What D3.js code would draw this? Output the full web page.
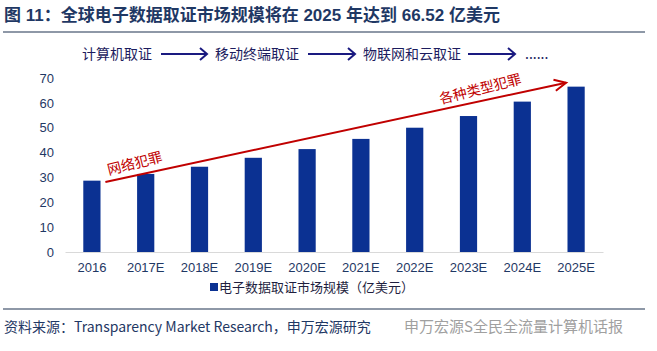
<!DOCTYPE html>
<html>
<head>
<meta charset="utf-8">
<script src="https://cdn.jsdelivr.net/npm/d3@7/dist/d3.min.js"></script>
<style>
  body { margin: 0; background: #fff; }
  svg { display: block; font-family: "Liberation Sans", Arial, "Noto Sans CJK SC", sans-serif; }
</style>
</head>
<body>
<div id="chart"></div>
<script>
// data
const years = ["2016", "2017E", "2018E", "2019E", "2020E", "2021E", "2022E", "2023E", "2024E", "2025E"];
const marketSize = [28.7, 31.4, 34.3, 37.9, 41.4, 45.5, 50.0, 54.7, 60.5, 66.52];
const yTicks = [0, 10, 20, 30, 40, 50, 60, 70];
const stages = ["计算机取证", "移动终端取证", "物联网和云取证", "......"];

const width = 657, height = 351;
const navy = "#1f3864";
const barColor = "#0b3192";
const red = "#c00000";

const svg = d3.select("#chart").append("svg")
  .attr("width", width)
  .attr("height", height);

// titre
svg.append("text")
  .attr("x", 4).attr("y", 21)
  .attr("font-size", 17).attr("font-weight", "bold")
  .attr("fill", navy)
  .text("图 11：全球电子数据取证市场规模将在 2025 年达到 66.52 亿美元");
svg.append("line")
  .attr("x1", 3).attr("x2", 645).attr("y1", 32).attr("y2", 32)
  .attr("stroke", "#1f3251").attr("stroke-width", 1.2);

// escalas
const x = d3.scaleBand().domain(years).range([65, 603]).paddingInner(0.68).paddingOuter(0.34);
const y = d3.scaleLinear().domain([0, 70]).range([252, 78]);

// eixo y (sem linha)
const yAxis = svg.append("g")
  .attr("transform", "translate(54,0)")
  .call(d3.axisLeft(y).tickValues(yTicks).tickSize(0).tickPadding(0));
yAxis.select(".domain").remove();
yAxis.selectAll("text").attr("font-size", 13).attr("fill", navy)
  .attr("font-family", "Liberation Sans, Arial, sans-serif");

// barras
svg.append("g").selectAll("rect")
  .data(years)
  .join("rect")
  .attr("x", d => x(d))
  .attr("y", (d, i) => y(marketSize[i]))
  .attr("width", x.bandwidth())
  .attr("height", (d, i) => y(0) - y(marketSize[i]))
  .attr("fill", barColor);

// eixo x
const xAxis = svg.append("g")
  .attr("transform", `translate(0,${y(0)})`)
  .call(d3.axisBottom(x).tickSize(0).tickPadding(11));
xAxis.select(".domain").attr("stroke", "#d9d9d9").attr("stroke-width", 1.2);
xAxis.selectAll("text").attr("font-size", 13).attr("fill", navy)
  .attr("font-family", "Liberation Sans, Arial, sans-serif");

// seta vermelha de tendência
const x0 = x("2016") + x.bandwidth() / 2 + 13.5, y0 = y(28.2);
const x1 = x("2025E") + x.bandwidth() / 2 - 10, y1 = y(68.1);
const ang = Math.atan2(y1 - y0, x1 - x0);
svg.append("line")
  .attr("x1", x0).attr("y1", y0).attr("x2", x1).attr("y2", y1)
  .attr("stroke", red).attr("stroke-width", 2);
const hl = 13, ha = 0.45;
svg.append("path")
  .attr("d", d3.line()([
    [x1 - hl * Math.cos(ang - ha), y1 - hl * Math.sin(ang - ha)],
    [x1, y1],
    [x1 - hl * Math.cos(ang + ha), y1 - hl * Math.sin(ang + ha)]
  ]))
  .attr("fill", "none").attr("stroke", red).attr("stroke-width", 2);

const deg = ang * 180 / Math.PI;
function along(t, label, dy) {
  const px = x0 + (x1 - x0) * t, py = y0 + (y1 - y0) * t;
  svg.append("text")
    .attr("transform", `translate(${px},${py}) rotate(${deg - 2})`)
    .attr("y", dy)
    .attr("text-anchor", "middle")
    .attr("font-size", 14)
    .attr("font-family", "Noto Sans CJK SC, sans-serif")
    .attr("fill", red)
    .text(label);
}
along(0.07, "网络犯罪", -7);
along(0.82, "各种类型犯罪", -7);

// etapas em cima
const stageX = [82, 215, 363, 525];
const arrowX = [[161, 207], [308, 355], [468, 515]];
svg.append("g").selectAll("text")
  .data(stages)
  .join("text")
  .attr("x", (d, i) => stageX[i])
  .attr("y", 59)
  .attr("font-size", 14)
  .attr("font-family", "Noto Sans CJK SC, sans-serif")
  .attr("fill", "#1c1c5e")
  .text(d => d);
arrowX.forEach(([a, b]) => {
  svg.append("line").attr("x1", a).attr("x2", b).attr("y1", 54).attr("y2", 54)
    .attr("stroke", "#1a1a80").attr("stroke-width", 2);
  svg.append("path")
    .attr("d", d3.line()([[b - 7, 48], [b, 54], [b - 7, 60]]))
    .attr("fill", "none").attr("stroke", "#1a1a80").attr("stroke-width", 2);
});

// legenda
svg.append("rect").attr("x", 210).attr("y", 283).attr("width", 8).attr("height", 8).attr("fill", barColor);
svg.append("text")
  .attr("x", 219).attr("y", 292)
  .attr("font-size", 13)
  .attr("font-family", "Noto Sans CJK SC, sans-serif")
  .attr("fill", "#1f1f3f")
  .text("电子数据取证市场规模（亿美元）");

// rodapé
svg.append("line")
  .attr("x1", 3).attr("x2", 645).attr("y1", 309).attr("y2", 309)
  .attr("stroke", "#1f3251").attr("stroke-width", 1.2);
svg.append("text")
  .attr("x", 4).attr("y", 332)
  .attr("font-size", 14)
  .attr("font-family", "Noto Sans CJK SC, sans-serif")
  .attr("fill", navy)
  .text("资料来源：Transparency Market Research，申万宏源研究");
svg.append("text")
  .attr("x", 404).attr("y", 332)
  .attr("font-size", 15)
  .attr("font-family", "Noto Sans CJK SC, sans-serif")
  .attr("fill", "#a0a0a0")
  .text("申万宏源S全民全流量计算机话报");
</script>
</body>
</html>
